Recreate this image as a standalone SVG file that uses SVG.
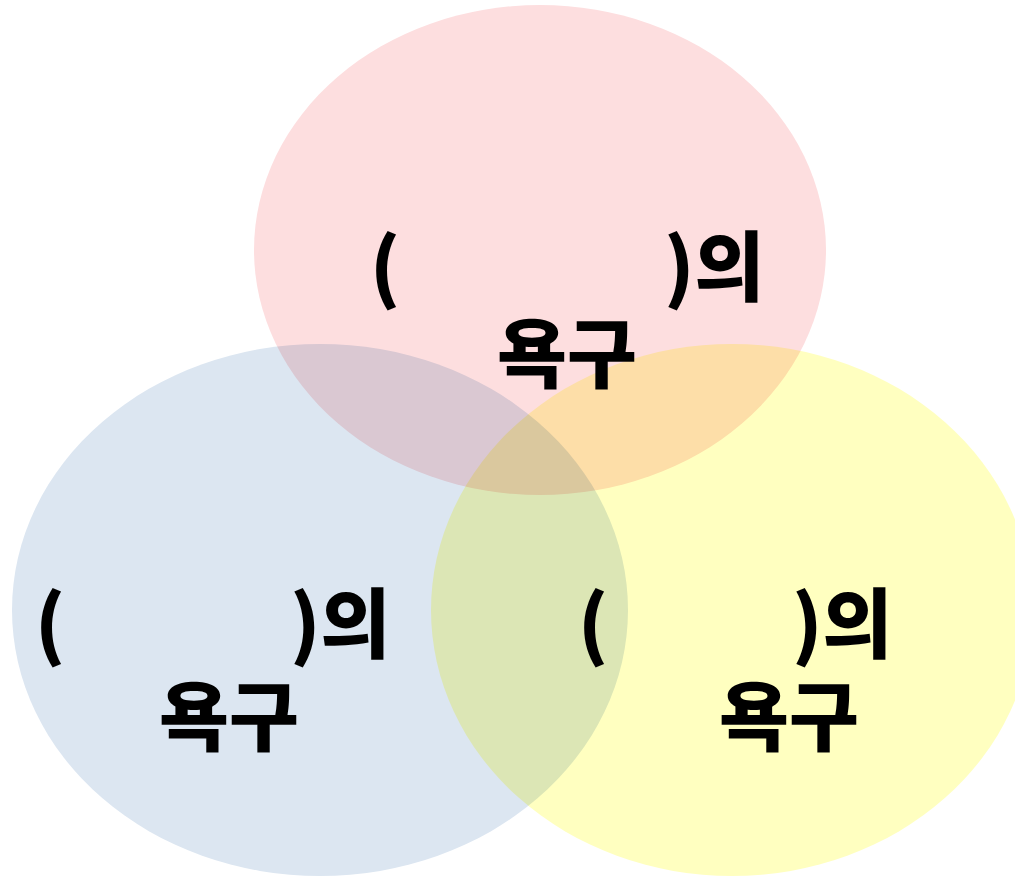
<svg xmlns="http://www.w3.org/2000/svg" width="1015" height="876" viewBox="0 0 1015 876">
<style>
.c{mix-blend-mode:multiply}
.t{font-family:"Noto Sans CJK KR","Noto Sans",sans-serif;font-weight:900;font-size:76px;fill:#000}
</style>
<rect width="1015" height="876" fill="#fff"/>
<g id="circle-top"><ellipse class="c" cx="540" cy="250" rx="286" ry="245" fill="#fddedf"/></g>
<g id="circle-left"><ellipse class="c" cx="320" cy="610" rx="308" ry="266" fill="#dce6f1"/></g>
<g id="circle-right"><ellipse class="c" cx="732" cy="610" rx="301" ry="266" fill="#ffffc0"/></g>
<g id="label-top" class="t">
<text x="370" y="295">(</text><text x="664" y="295">)의</text>
<text x="497" y="382">욕구</text>
</g>
<g id="label-left" class="t">
<text x="35" y="652">(</text><text x="290" y="652">)의</text>
<text x="159" y="745">욕구</text>
</g>
<g id="label-right" class="t">
<text x="578" y="652">(</text><text x="792" y="652">)의</text>
<text x="719" y="745">욕구</text>
</g>
<g id="connectors"/>
</svg>
